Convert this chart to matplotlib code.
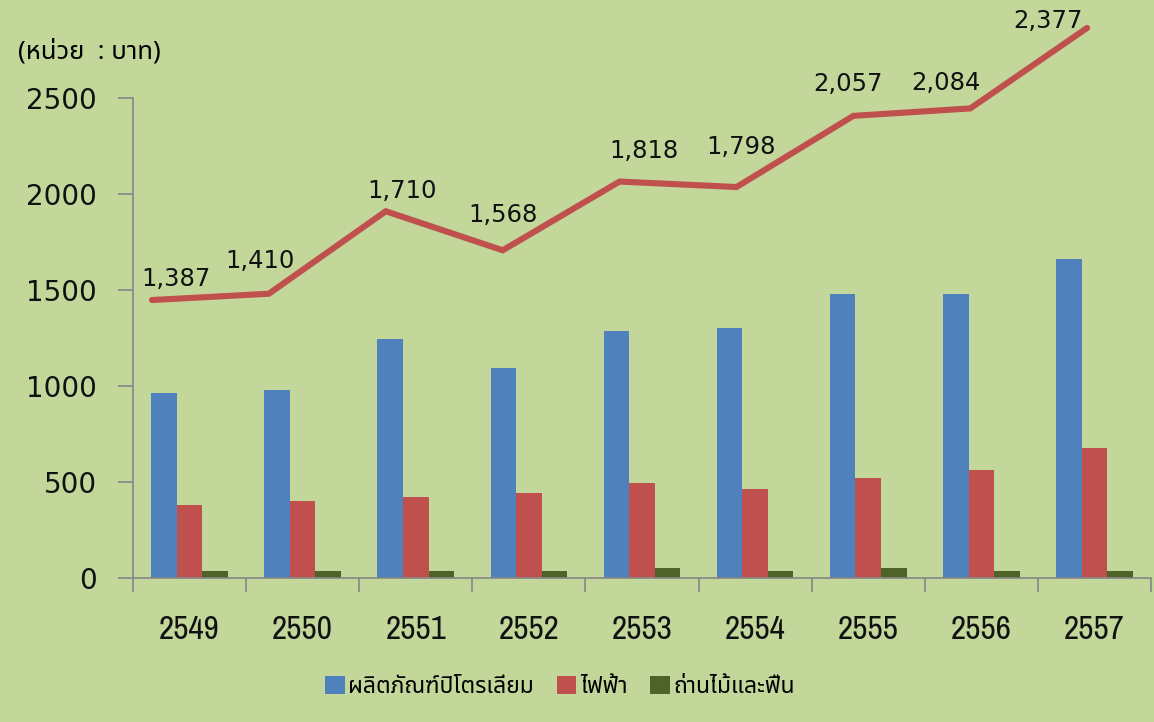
import matplotlib
matplotlib.use("Agg")
import matplotlib.pyplot as plt
from matplotlib import font_manager
from matplotlib.patches import Patch
from matplotlib.ft2font import FT2Font

# ---------------- data ----------------
years = ["2549", "2550", "2551", "2552", "2553", "2554", "2555", "2556", "2557"]
petroleum = [963, 977, 1241, 1090, 1284, 1298, 1477, 1477, 1658]
electricity = [380, 397, 422, 440, 494, 463, 521, 562, 674]
charcoal = [33, 35, 35, 34, 48, 35, 48, 35, 35]
totals = [1387, 1410, 1710, 1568, 1818, 1798, 2057, 2084, 2377]
total_labels = ["1,387", "1,410", "1,710", "1,568", "1,818", "1,798", "2,057", "2,084", "2,377"]
series_names = ["ผลิตภัณฑ์ปิโตรเลียม", "ไฟฟ้า", "ถ่านไม้และฟืน"]
unit_text = "(หน่วย  : บาท)"

# ---------------- fonts ----------------
available = set(f.name for f in font_manager.fontManager.ttflist)

def pick(cands, default="DejaVu Sans"):
    for c in cands:
        if c in available:
            return c
    return default

thai_font = pick(["Noto Sans Thai", "Noto Sans Thai UI", "Sarabun", "Bai Jamjuree",
                  "IBM Plex Sans Thai", "Prompt", "Kanit", "Niramit"], None)
if thai_font is None:
    for f in font_manager.fontManager.ttflist:
        try:
            cm = FT2Font(f.fname).get_charmap()
            if 0x0E1C in cm and 0x0E34 in cm:
                thai_font = f.name
                break
        except Exception:
            pass
if thai_font is None:
    thai_font = "DejaVu Sans"
narrow_font = pick(["Liberation Sans Narrow", "Arimo Narrow", "Archivo Narrow",
                    "PT Sans Narrow", "Roboto Condensed", "DejaVu Sans Condensed"])

plt.rcParams['font.family'] = ['DejaVu Sans']

BG = "#C4D79B"
BLUE = "#4F81BD"
RED = "#C0504D"
GREEN = "#4F6228"
AXC = "#868686"

W, H = 1154, 722
fig = plt.figure(figsize=(W / 100, H / 100), dpi=100, facecolor=BG)

left, right, top, bottom = 133, 1151, 97.7, 577.7
rect = [left / W, 1 - bottom / H, (right - left) / W, (bottom - top) / H]
ax = fig.add_axes(rect)
ax.set_facecolor(BG)

x = list(range(len(years)))
bw = 0.226
ax.bar([i - bw for i in x], petroleum, width=bw, color=BLUE, zorder=2)
ax.bar(x, electricity, width=bw, color=RED, zorder=2)
ax.bar([i + bw for i in x], charcoal, width=bw, color=GREEN, zorder=2)

ax.set_xlim(-0.5, len(years) - 0.5)
ax.set_ylim(0, 2500)
ax.set_yticks(range(0, 2501, 500))
ax.tick_params(axis='y', direction='out', length=10.8, width=1.2, color=AXC,
               labelsize=20, pad=15, labelcolor='#111111')
ax.set_xticks(x)
ax.set_xticklabels(years, fontfamily=narrow_font, fontsize=24, color='#111111')
ax.tick_params(axis='x', which='major', length=0, pad=27)
ax.set_xticks([i - 0.5 for i in range(len(years) + 1)], minor=True)
ax.tick_params(axis='x', which='minor', direction='out', length=10, width=1.2, color=AXC)
for s in ['top', 'right']:
    ax.spines[s].set_visible(False)
for s in ['left', 'bottom']:
    ax.spines[s].set_color(AXC)
    ax.spines[s].set_linewidth(1.2)

# overlay axes for the total line (secondary, hidden scale)
ax2 = fig.add_axes(rect, frameon=False)
ax2.patch.set_visible(False)
ax2.set_xlim(-0.1625, 8.546)
ax2.set_ylim(377, 2123)
ax2.set_xticks([])
ax2.set_yticks([])
ax2.plot(x, totals, color=RED, lw=4.4, solid_joinstyle='miter',
         solid_capstyle='round', clip_on=False, zorder=5)

label_offsets = [(24, 21), (-9, 33), (16, 20), (0, 35), (24, 31), (5, 40), (-5, 32), (-24, 25), (-39, 7)]
for i, (t, lab) in enumerate(zip(totals, total_labels)):
    dx, dy = label_offsets[i]
    ax2.annotate(lab, (i, t), xytext=(dx, dy), textcoords='offset pixels',
                 ha='center', va='center', fontsize=17.5, color='#111111',
                 annotation_clip=False)

fig.text(18 / W, 1 - 52 / H, unit_text, fontfamily=[thai_font, 'DejaVu Sans'],
         fontsize=18.5, fontweight='medium', va='center', ha='left', color='black')

handles = [Patch(facecolor=c, edgecolor='none') for c in (BLUE, RED, GREEN)]
fig.legend(handles, series_names, loc='center', bbox_to_anchor=(560 / W, 1 - 687 / H),
           ncol=3, frameon=False,
           prop={'family': [thai_font, 'DejaVu Sans'], 'size': 16.5, 'weight': 'medium'},
           handlelength=0.85, handleheight=0.85, handletextpad=0.15, columnspacing=1.0)

fig.savefig("out.png", dpi=100, facecolor=BG)
